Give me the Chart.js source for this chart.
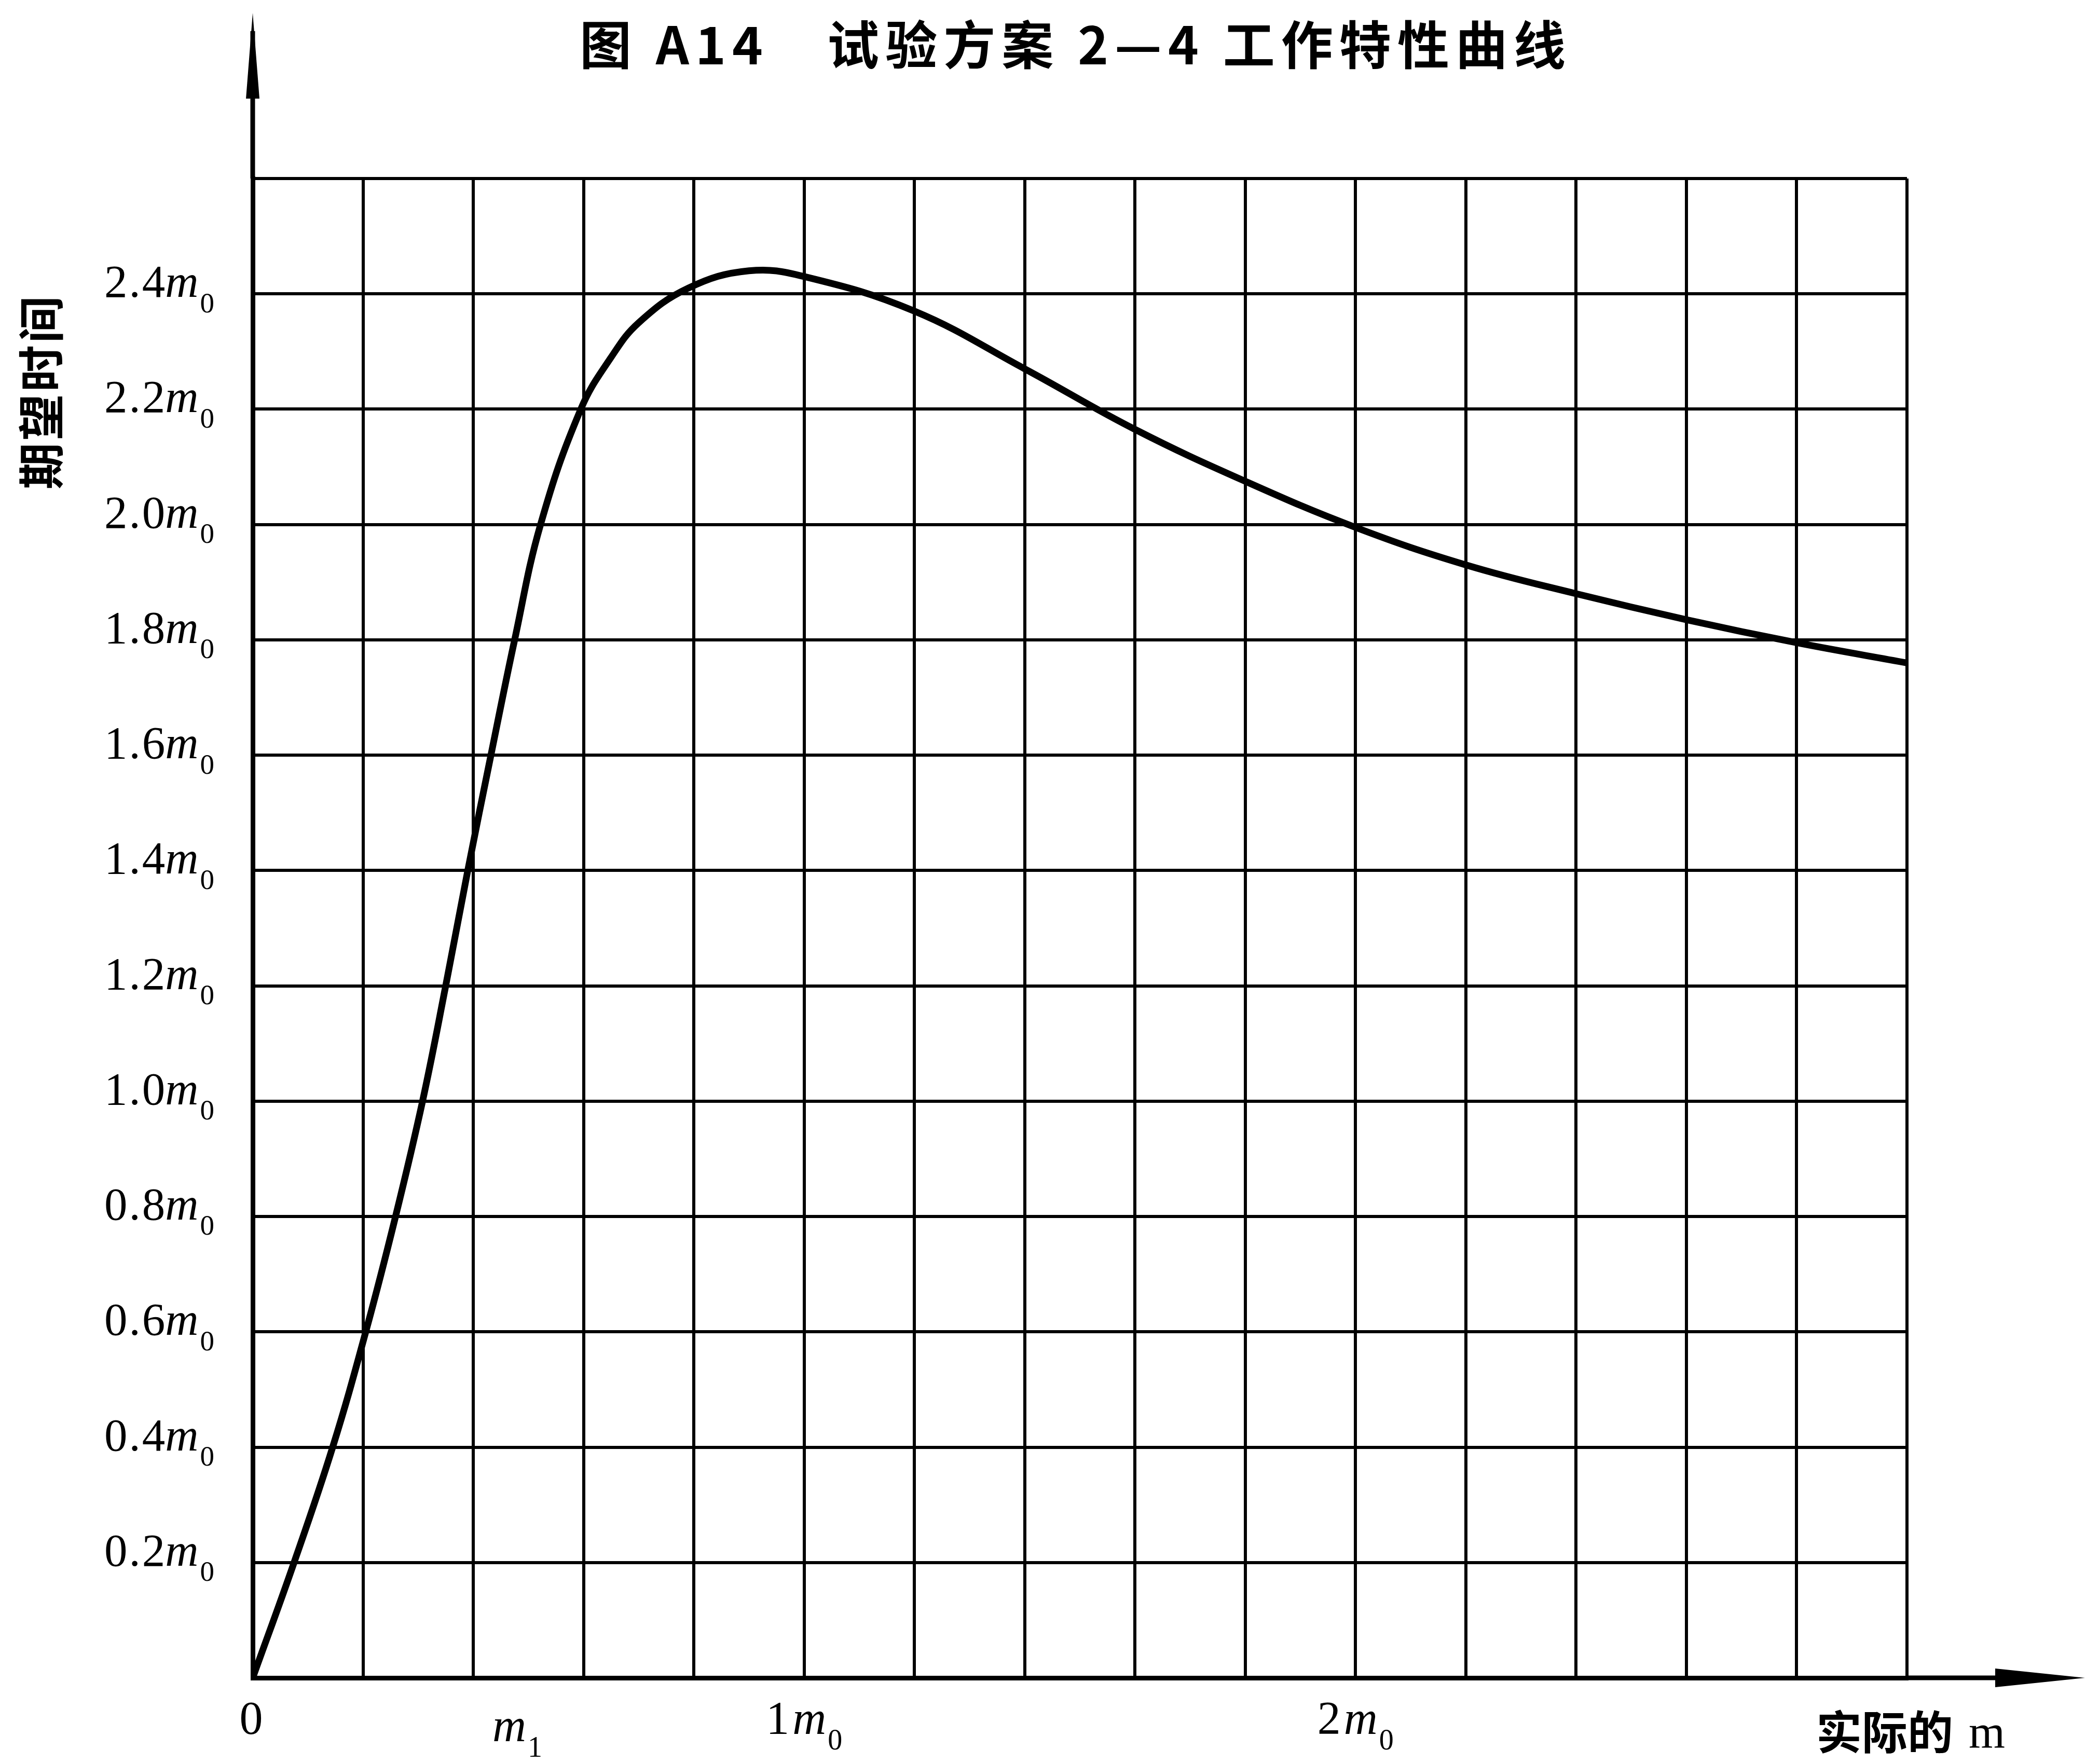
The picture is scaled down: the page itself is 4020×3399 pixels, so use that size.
<!DOCTYPE html>
<html>
<head>
<meta charset="utf-8">
<title>试验方案 2—4 工作特性曲线</title>
<script src="https://cdn.jsdelivr.net/npm/chart.js@4/dist/chart.umd.min.js"></script>
<style>
  html, body { margin: 0; padding: 0; background: #fff; }
  canvas { display: block; }
</style>
</head>
<body>
<canvas id="myChart" width="4020" height="3399" style="width:4020px;height:3399px"></canvas>
<script>
const mValues = [0, 0.075, 0.145, 0.205, 0.259, 0.308, 0.35, 0.39, 0.432, 0.475, 0.522, 0.595, 0.65, 0.7, 0.79, 0.9, 1.0, 1.2, 1.4, 1.6, 1.8, 2.0, 2.2, 2.4, 2.6, 2.8, 3.0];
const timeValues = [0, 0.2, 0.4, 0.6, 0.8, 1.0, 1.2, 1.4, 1.6, 1.8, 2.0, 2.2, 2.29, 2.35, 2.41, 2.44, 2.43, 2.37, 2.27, 2.165, 2.075, 1.995, 1.93, 1.88, 1.835, 1.795, 1.76];

// grid lines
const xGridValues = [0, 0.2, 0.4, 0.6, 0.8, 1.0, 1.2, 1.4, 1.6, 1.8, 2.0, 2.2, 2.4, 2.6, 2.8, 3.0];
const yGridValues = [0, 0.2, 0.4, 0.6, 0.8, 1.0, 1.2, 1.4, 1.6, 1.8, 2.0, 2.2, 2.4, 2.6];

// tick labels
const yTickValues = [0.2, 0.4, 0.6, 0.8, 1.0, 1.2, 1.4, 1.6, 1.8, 2.0, 2.2, 2.4];
const yTickText = ['0.2', '0.4', '0.6', '0.8', '1.0', '1.2', '1.4', '1.6', '1.8', '2.0', '2.2', '2.4'];
const xTickValues = [0, 0.48, 1, 2];
const xTickNum = ['0', '', '1', '2'];
const xTickSub = ['', '1', '0', '0'];

const titleText = '图 A14　试验方案 2—4 工作特性曲线';
const yTitleText = '期望时间';
const xTitleText = '实际的';

const SERIF = '"Liberation Serif", "DejaVu Serif", serif';
const CJK = '"Noto Sans CJK SC", sans-serif';

// draws "2.4" + italic m + small subscript
const drawMLabel = (ctx, num, sub, x, y, align, size) => {
  const fNum = size + 'px ' + SERIF;
  const fM = 'italic ' + size + 'px ' + SERIF;
  const fSub = Math.round(size * 0.62) + 'px ' + SERIF;
  ctx.font = fNum;
  const wNum = num ? ctx.measureText(num).width + 6 : 0;
  ctx.font = fM;
  const wM = sub ? ctx.measureText('m').width + 3 : 0;
  ctx.font = fSub;
  const wSub = sub ? ctx.measureText(sub).width : 0;
  const total = wNum + wM + wSub;
  let start = x;
  if (align === 'right') start = x - total;
  if (align === 'center') start = x - total / 2;
  ctx.textAlign = 'left';
  ctx.textBaseline = 'alphabetic';
  if (num) {
    ctx.font = fNum;
    ctx.letterSpacing = '3px';
    ctx.fillText(num, start, y);
    ctx.letterSpacing = '0px';
  }
  if (sub) {
    ctx.font = fM;
    ctx.fillText('m', start + wNum, y);
    ctx.font = fSub;
    ctx.fillText(sub, start + wNum + wM, y + size * 0.33);
  }
};

const textPlugin = {
  id: 'textPlugin',
  afterDraw(chart) {
    const ctx = chart.ctx;
    const area = chart.chartArea;
    const xs = chart.scales.x;
    const ys = chart.scales.y;
    ctx.save();
    ctx.fillStyle = '#000';
    ctx.strokeStyle = '#000';

    // axis arrows
    const x0 = xs.getPixelForValue(0);
    const y0 = ys.getPixelForValue(0);
    ctx.lineWidth = 9;
    ctx.beginPath();
    ctx.moveTo(x0, area.top);
    ctx.lineTo(x0, 60);
    ctx.stroke();
    ctx.beginPath();
    ctx.moveTo(x0, 25);
    ctx.lineTo(x0 - 13, 190);
    ctx.lineTo(x0 + 13, 190);
    ctx.closePath();
    ctx.fill();

    ctx.beginPath();
    ctx.moveTo(area.right, y0);
    ctx.lineTo(3860, y0);
    ctx.stroke();
    ctx.beginPath();
    ctx.moveTo(4018, y0);
    ctx.lineTo(3845, y0 - 18);
    ctx.lineTo(3845, y0 + 18);
    ctx.closePath();
    ctx.fill();

    // y tick labels
    yTickValues.forEach((v, i) => {
      const py = ys.getPixelForValue(v);
      drawMLabel(ctx, yTickText[i], '0', area.left - 74, py + 6, 'right', 89);
    });

    // x tick labels
    xTickValues.forEach((v, i) => {
      const px = xs.getPixelForValue(v);
      const extra = xTickNum[i] === '' ? 14 : 0;
      drawMLabel(ctx, xTickNum[i], xTickSub[i], px, y0 + 108 + extra, 'center', 90);
    });

    // x axis title
    ctx.textAlign = 'left';
    ctx.textBaseline = 'alphabetic';
    ctx.font = 'bold 88px ' + CJK;
    ctx.fillText(xTitleText, 3500, 3370);
    const wCjk = ctx.measureText(xTitleText).width;
    ctx.font = '90px ' + SERIF;
    ctx.fillText('m', 3500 + wCjk + 30, 3368);

    // title
    ctx.font = 'bold 100px ' + CJK;
    const wTitle = ctx.measureText(titleText).width;
    const n = [...titleText].length;
    const spacing = Math.max(0, (1900 - wTitle) / (n - 1));
    ctx.letterSpacing = spacing + 'px';
    ctx.textAlign = 'left';
    ctx.textBaseline = 'middle';
    ctx.fillText(titleText, 1117, 86);
    ctx.letterSpacing = '0px';

    // y axis title, vertical
    ctx.translate(79, 755);
    ctx.rotate(-Math.PI / 2);
    ctx.font = 'bold 90px ' + CJK;
    ctx.letterSpacing = '4px';
    ctx.textAlign = 'center';
    ctx.textBaseline = 'middle';
    ctx.fillText(yTitleText, 0, 0);
    ctx.restore();
  }
};

const points = mValues.map((m, i) => ({ x: m, y: timeValues[i] }));

const ctx = document.getElementById('myChart').getContext('2d');
const myChart = new Chart(ctx, {
  type: 'line',
  data: {
    datasets: [{
      data: points,
      borderColor: '#000',
      borderWidth: 13,
      pointRadius: 0,
      fill: false,
      tension: 0.4,
      borderCapStyle: 'round',
      borderJoinStyle: 'round'
    }]
  },
  options: {
    responsive: false,
    devicePixelRatio: 1,
    animation: false,
    layout: {
      padding: { left: 487, right: 345, top: 344, bottom: 166 }
    },
    plugins: {
      legend: { display: false },
      tooltip: { enabled: false },
      title: { display: false }
    },
    scales: {
      x: {
        type: 'linear',
        min: 0,
        max: 3,
        afterBuildTicks: scale => { scale.ticks = xGridValues.map(v => ({ value: v })); },
        ticks: { display: false },
        grid: { color: '#000', lineWidth: 6, drawTicks: false },
        border: { color: '#000', width: 9 }
      },
      y: {
        type: 'linear',
        min: 0,
        max: 2.6,
        afterBuildTicks: scale => { scale.ticks = yGridValues.map(v => ({ value: v })); },
        ticks: { display: false },
        grid: { color: '#000', lineWidth: 6, drawTicks: false },
        border: { color: '#000', width: 9 }
      }
    }
  },
  plugins: [textPlugin]
});
</script>
</body>
</html>
